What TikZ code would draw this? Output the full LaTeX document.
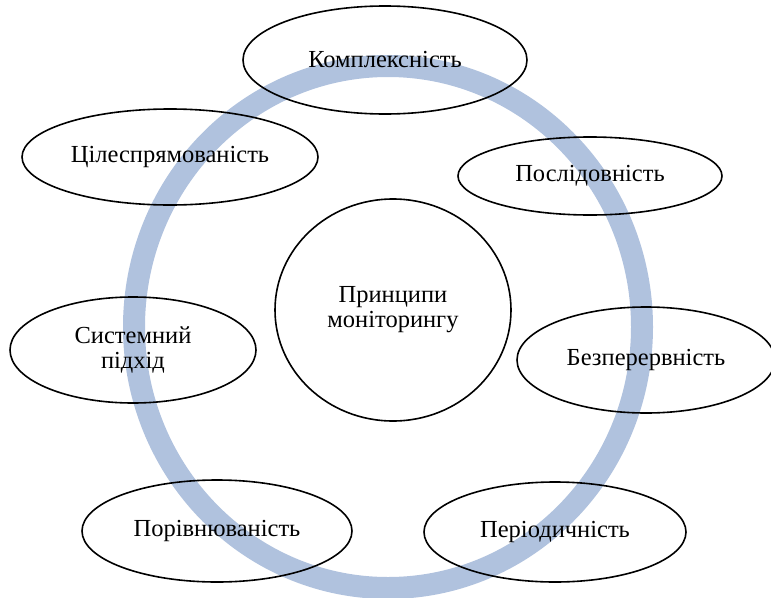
\documentclass[tikz,border=0pt]{standalone}
\usepackage{fontspec}
\setmainfont{Liberation Serif}
\usetikzlibrary{shapes.geometric}
\definecolor{ringblue}{RGB}{176,194,222}
\tikzset{
  principle/.style={draw, ellipse, line width=1.6pt, inner sep=0pt, align=center,
    font=\fontsize{24.5}{25}\selectfont},
  ring/.style={draw=ringblue, line width=22pt},
}

\begin{document}
\begin{tikzpicture}[x=1pt, y=-1pt]
      \useasboundingbox (0,0) rectangle (771,597);
      \path[ring] (388,327) ellipse [x radius=254pt, y radius=261pt];
      \draw
        (393,310) node[principle, minimum width=236pt, minimum height=222pt] (centre){Принципи\\моніторингу}
        (385,60) node[principle, minimum width=284pt, minimum height=108pt] (compl){Комплексність}
        (590,176) node[principle, minimum width=264pt, minimum height=78pt] (seq){Послідовність}
        (646,360) node[principle, minimum width=258pt, minimum height=106pt] (cont){Безперервність}
        (555,532) node[principle, minimum width=262pt, minimum height=100pt] (period){Періодичність}
        (217,531) node[principle, minimum width=270pt, minimum height=102pt] (compar){Порівнюваність}
        (133,350) node[principle, minimum width=246pt, minimum height=106pt] (sys){Системний\\підхід}
        (170,157) node[principle, minimum width=296pt, minimum height=96pt] (goal){Цілеспрямованість};
    \end{tikzpicture}
\end{document}
